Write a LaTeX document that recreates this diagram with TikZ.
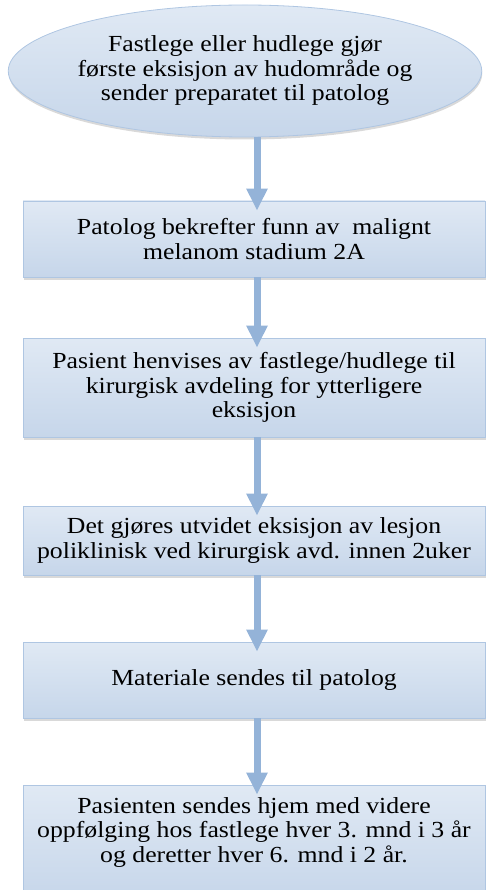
\documentclass[tikz,border=0pt]{standalone}
\usepackage{fontspec}
\setmainfont[FakeStretch=1.12]{Liberation Serif}
\usetikzlibrary{arrows.meta,shadows,shapes.geometric}
\definecolor{boxtop}{HTML}{E0E9F4}
\definecolor{boxbot}{HTML}{C6D6EA}
\definecolor{boxline}{HTML}{AFC6E2}
\definecolor{arrowblue}{HTML}{94B3D8}
\begin{document}
\begin{tikzpicture}[x=1pt,y=-1pt,
  txt/.style={font=\fontsize{23}{24.5}\selectfont, align=center, text=black},
  flowbox/.style={txt, rectangle, draw=boxline, line width=0.8pt,
    top color=boxtop, bottom color=boxbot, minimum width=462pt, inner sep=0pt,
    drop shadow={shadow xshift=0.5pt, shadow yshift=-2.5pt, opacity=0.3, fill=gray}},
  startell/.style={txt, ellipse, draw=boxline, line width=0.8pt,
    top color=boxtop, bottom color=boxbot, minimum width=466pt, minimum height=132pt, inner sep=0pt,
    drop shadow={shadow xshift=0.5pt, shadow yshift=-2.5pt, opacity=0.3, fill=gray}},
  flow/.style={draw=arrowblue, line width=7pt, shorten >=-10pt,
    -{Triangle[width=20pt,length=22pt]}}]
\useasboundingbox (0,0) rectangle (486,890);
\node[startell] (e) at (245,71) {Fastlege eller hudlege gjør\\første eksisjon av hudområde og\\sender preparatet til patolog};
\node[flowbox, minimum height=76pt] (b1) at (254,239) {Patolog bekrefter funn av\ \ malignt\\melanom stadium 2A};
\node[flowbox, minimum height=99pt] (b2) at (254,387.5) {Pasient henvises av fastlege/hudlege til\\kirurgisk avdeling for ytterligere\\eksisjon};
\node[flowbox, minimum height=69pt] (b3) at (254,540.5) {Det gjøres utvidet eksisjon av lesjon\\poliklinisk ved kirurgisk avd. innen 2uker};
\node[flowbox, minimum height=76pt] (b4) at (254,680) {Materiale sendes til patolog};
\node[flowbox, minimum height=115pt] (b5) at (254,842.5) {};
\node[txt] (b5t) at (254,832) {Pasienten sendes hjem med videre\\oppfølging hos fastlege hver 3. mnd i 3 år\\og deretter hver 6. mnd i 2 år.};
\coordinate (col) at (257,0);
\draw[flow] (col |- e.south) -- (col |- b1.north);
\draw[flow] (col |- b1.south) -- (col |- b2.north);
\draw[flow] (col |- b2.south) -- (col |- b3.north);
\draw[flow] (col |- b3.south) -- (col |- b4.north);
\draw[flow] (col |- b4.south) -- (col |- b5.north);
\end{tikzpicture}
\end{document}
